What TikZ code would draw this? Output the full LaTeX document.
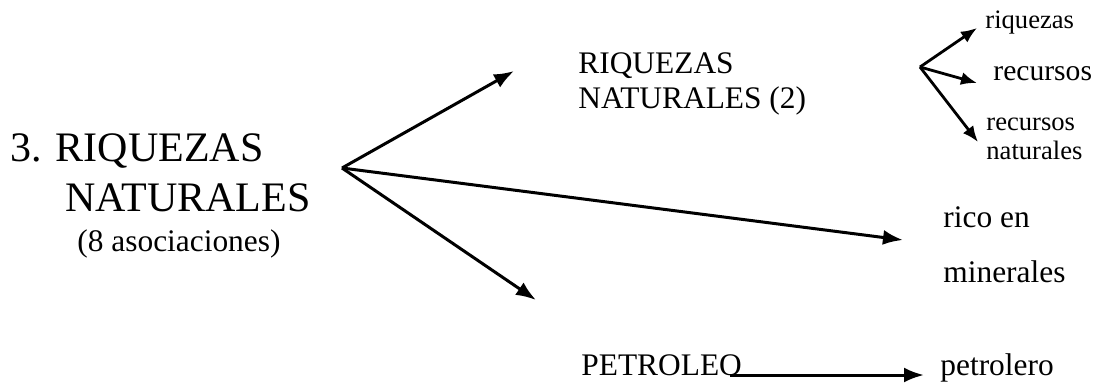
\documentclass[tikz,border=0pt]{standalone}
\usepackage{fontspec}
\setmainfont{Liberation Serif}
\usetikzlibrary{arrows.meta}

\begin{document}
\begin{tikzpicture}[x=0.5pt,y=-0.5pt,
  lbl/.style={anchor=base west, inner sep=0pt},
  bigtxt/.style={lbl, font=\fontsize{21}{25}\selectfont},
  midtxt/.style={lbl, font=\fontsize{15.7}{19}\selectfont},
  smalltxt/.style={lbl, font=\fontsize{13.3}{16}\selectfont},
  arr/.style={line width=1.5pt, -{Latex[length=10pt,width=7.5pt]}},
  sarr/.style={line width=1.4pt, -{Latex[length=8pt,width=6.5pt]}}]
\useasboundingbox (0,0) rectangle (1104,388);

% Main topic
\node[bigtxt] (tema1) at (10,161) {3. RIQUEZAS};
\node[bigtxt] (tema2) at (65,211) {NATURALES};
\node[midtxt] (tema3) at (77,251) {(8 asociaciones)};
\coordinate (hub) at (342,168);

% Associations
\node[midtxt] (rn1) at (578,73) {RIQUEZAS};
\node[midtxt] (rn2) at (578,108) {NATURALES (2)};
\node[midtxt] (rico1) at (943,227) {rico en};
\node[midtxt] (rico2) at (943,282) {minerales};
\node[midtxt] (petro) at (581,375) {PETROLEO};
\node[midtxt] (petrol) at (940,375) {petrolero};

\coordinate (tipA) at (514,71);
\coordinate (tipB) at (903,240);
\coordinate (tipC) at (536,300);
\draw[arr] (hub) -- (tipA);
\draw[arr] (hub) -- (tipB);
\draw[arr] (hub) -- (tipC);
\draw[arr] ([xshift=-6pt]petro.base east) -- ([xshift=-8pt]petrol.base west);

% Sub-associations of RIQUEZAS NATURALES (2)
\node[smalltxt] (sub1) at (985,28) {riquezas};
\node[lbl, font=\fontsize{14.8}{18}\selectfont] (sub2) at (993,80) {recursos};
\node[smalltxt] (sub3a) at (986,130) {recursos};
\node[smalltxt] (sub3b) at (986,159) {naturales};
\coordinate (hub2) at (920,67);
\coordinate (tip1) at (977,28);
\coordinate (tip2) at (977,83);
\coordinate (tip3) at (978,142);
\foreach \t in {tip1,tip2,tip3}
  \draw[sarr] (hub2) -- (\t);
\end{tikzpicture}
\end{document}
